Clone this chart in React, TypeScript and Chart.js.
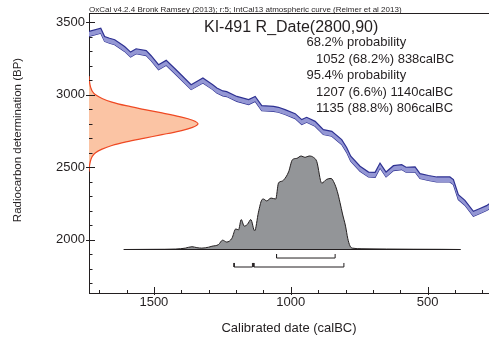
import React, { useEffect, useRef } from 'react';
import { Chart, registerables } from 'chart.js';

Chart.register(...registerables);

const FONT = '"Liberation Sans", Arial, Helvetica, sans-serif';
const INK = '#231f20';

// IntCal13 calibration curve (calBC, BP)
const calBC = [1745, 1737, 1694, 1680, 1662, 1643, 1607, 1585, 1565, 1528, 1510, 1483, 1455, 1419, 1364, 1321, 1285, 1270, 1248, 1234, 1197, 1154, 1130, 1106, 1063, 1045, 1021, 984, 960, 942, 911, 881, 850, 814, 796, 781, 747, 716, 692, 674, 652, 625, 595, 579, 546, 528, 497, 467, 419, 406, 388, 364, 333, 309, 285, 270];
const calBP = [3415, 3421, 3443, 3386, 3374, 3363, 3317, 3278, 3301, 3288, 3253, 3191, 3221, 3156, 3053, 3099, 3053, 3030, 3010, 3005, 2972, 2950, 2972, 2908, 2903, 2897, 2881, 2853, 2812, 2828, 2800, 2743, 2731, 2674, 2620, 2559, 2490, 2450, 2448, 2512, 2450, 2494, 2501, 2483, 2485, 2439, 2426, 2416, 2416, 2398, 2294, 2255, 2179, 2198, 2218, 2237];
const calHalfWidth = 17;

// R_Date(2800,90) likelihood on the radiocarbon axis (relative density)
const likBP = [3130, 3100, 3075, 3050, 3025, 3000, 2975, 2950, 2925, 2900, 2875, 2850, 2825, 2800, 2775, 2750, 2725, 2700, 2675, 2650, 2625, 2600, 2575, 2550, 2525, 2500, 2470];
const likDensity = [0, 0.003, 0.008, 0.016, 0.03, 0.06, 0.12, 0.21, 0.34, 0.5, 0.67, 0.83, 0.95, 1.0, 0.95, 0.83, 0.67, 0.5, 0.34, 0.21, 0.12, 0.06, 0.03, 0.016, 0.008, 0.003, 0];

// Posterior (calibrated) distribution, relative probability
const postBC = [1610, 1500, 1420, 1385, 1361, 1343, 1325, 1300, 1288, 1264, 1249, 1234, 1215, 1201, 1191, 1181, 1170, 1158, 1146, 1132, 1118, 1106, 1100, 1088, 1072, 1055, 1045, 1033, 1027, 1008, 994, 978, 962, 948, 933, 917, 905, 887, 869, 853, 841, 830, 820, 811, 800, 792, 784, 775, 740, 650, 550, 450, 380];
const postProb = [0, 0.002, 0.005, 0.015, 0.03, 0.02, 0.015, 0.025, 0.035, 0.053, 0.1, 0.08, 0.12, 0.22, 0.21, 0.32, 0.25, 0.27, 0.32, 0.2, 0.4, 0.53, 0.54, 0.52, 0.55, 0.54, 0.71, 0.73, 0.74, 0.83, 0.96, 0.975, 1.0, 0.985, 1.0, 0.985, 0.94, 0.71, 0.75, 0.76, 0.71, 0.62, 0.5, 0.38, 0.25, 0.12, 0.04, 0.015, 0.008, 0.005, 0.003, 0.002, 0];
const baselineBC = [1610, 380];

// Highest posterior density ranges (calBC)
const ranges68 = [[1052, 838]];
const ranges95 = [[1207, 1140], [1135, 806]];

const xTickVals = [1500, 1000, 500];
const yTickVals = [2000, 2500, 3000, 3500];

const headerText = 'OxCal v4.2.4 Bronk Ramsey (2013); r:5; IntCal13 atmospheric curve (Reimer et al 2013)';
const titleText = 'KI-491 R_Date(2800,90)';
const probLines = ['68.2% probability', '1052 (68.2%) 838calBC', '95.4% probability', '1207 (6.6%) 1140calBC', '1135 (88.8%) 806calBC'];
const probIndent = [0, 1, 0, 1, 1];
const xTitle = 'Calibrated date (calBC)';
const yTitle = 'Radiocarbon determination (BP)';

const LEVEL68 = -0.091;
const LEVEL95 = -0.187;
const TICK = 0.043;

function bracket(r: number[], level: number) {
  return [
    { x: r[0], y: level + TICK },
    { x: r[0], y: level },
    { x: r[1], y: level },
    { x: r[1], y: level + TICK },
  ];
}

const decor = {
  id: 'decor',
  afterDraw(chart: any) {
    const ctx = chart.ctx as CanvasRenderingContext2D;
    const { left, right, top, bottom } = chart.chartArea;
    const xs = chart.scales.x;
    const ys = chart.scales.y;
    ctx.save();
    ctx.strokeStyle = INK;
    ctx.lineWidth = 1;
    ctx.beginPath();
    ctx.moveTo(left, Math.round(top) + 0.5);
    ctx.lineTo(right, Math.round(top) + 0.5);
    ctx.stroke();
    for (let v = 300; v <= 1700; v += 100) {
      const px = Math.round(xs.getPixelForValue(v)) + 0.5;
      const major = v % 500 === 0;
      ctx.beginPath();
      ctx.moveTo(px, bottom - (major ? 6 : 3));
      ctx.lineTo(px, bottom + (major ? 2 : 0));
      ctx.stroke();
    }
    for (let v = 1700; v <= 3500; v += 100) {
      const py = Math.round(ys.getPixelForValue(v)) + 0.5;
      const major = v % 500 === 0;
      ctx.beginPath();
      ctx.moveTo(left - (major ? 3 : 0), py);
      ctx.lineTo(left + (major ? 6 : 3.5), py);
      ctx.stroke();
    }
    ctx.fillStyle = INK;
    ctx.textBaseline = 'alphabetic';
    ctx.textAlign = 'left';
    ctx.font = `8px ${FONT}`;
    ctx.fillText(headerText, left, 11.5);
    ctx.font = `16px ${FONT}`;
    ctx.fillText(titleText, 204, 31.5);
    ctx.font = `13px ${FONT}`;
    probLines.forEach((t, i) => {
      ctx.fillText(t, probIndent[i] ? 316 : 306.5, 46 + i * 16.5);
    });
    ctx.save();
    ctx.translate(18, 140);
    ctx.rotate(-Math.PI / 2);
    ctx.textAlign = 'center';
    ctx.textBaseline = 'middle';
    ctx.font = `11.5px ${FONT}`;
    ctx.fillText(yTitle, 0, 0);
    ctx.restore();
    ctx.restore();
  },
};

export default function App() {
  const ref = useRef<HTMLCanvasElement>(null);
  useEffect(() => {
    const black = { pointRadius: 0, borderColor: INK, borderWidth: 1, fill: false, tension: 0, xAxisID: 'x', yAxisID: 'yPost' };
    const chart = new Chart(ref.current!, {
      type: 'line',
      data: {
        datasets: [
          ...ranges68.map((r) => ({ ...black, data: bracket(r, LEVEL68) })),
          ...ranges95.map((r) => ({ ...black, data: bracket(r, LEVEL95) })),
          { ...black, data: baselineBC.map((x) => ({ x, y: 0 })) },
          {
            data: postBC.map((x, i) => ({ x, y: postProb[i] })),
            xAxisID: 'x', yAxisID: 'yPost',
            fill: { value: 0 }, backgroundColor: '#939598', borderColor: INK, borderWidth: 1,
            pointRadius: 0, cubicInterpolationMode: 'monotone',
          },
          {
            data: calBC.map((x, i) => ({ x, y: calBP[i] + calHalfWidth })),
            xAxisID: 'x', yAxisID: 'y',
            fill: '+1', backgroundColor: '#9497d4', borderColor: '#2e3192', borderWidth: 1.2,
            pointRadius: 0, tension: 0,
          },
          {
            data: calBC.map((x, i) => ({ x, y: calBP[i] - calHalfWidth })),
            xAxisID: 'x', yAxisID: 'y',
            fill: false, borderColor: '#2e3192', borderWidth: 1.2,
            pointRadius: 0, tension: 0,
          },
          {
            data: likBP.map((y, i) => ({ x: likDensity[i], y })),
            xAxisID: 'xLik', yAxisID: 'y', indexAxis: 'y',
            fill: { value: 0 }, backgroundColor: '#fbc4a4', borderColor: '#ef4923', borderWidth: 1.2,
            pointRadius: 0, tension: 0.35,
          },
        ] as any,
      },
      options: {
        responsive: false,
        animation: false,
        events: [],
        layout: { padding: { top: 13, left: 0, right: 0, bottom: 0 } },
        plugins: { legend: { display: false }, tooltip: { enabled: false }, title: { display: false } },
        scales: {
          x: {
            type: 'linear', position: 'bottom', reverse: true, min: 276, max: 1737,
            afterBuildTicks: (s: any) => { s.ticks = xTickVals.map((v) => ({ value: v })); },
            afterFit: (s: any) => { s.height = 49; },
            ticks: { callback: (v: any) => String(v), padding: 2, color: INK, font: { family: FONT, size: 13 }, maxRotation: 0, autoSkip: false },
            grid: { drawOnChartArea: false, drawTicks: false },
            border: { display: true, color: INK, width: 1 },
            title: { display: true, text: xTitle, color: INK, font: { family: FONT, size: 13 }, padding: { top: 0, bottom: 6 } },
          },
          y: {
            type: 'linear', position: 'left', min: 1632, max: 3565,
            afterBuildTicks: (s: any) => { s.ticks = yTickVals.map((v) => ({ value: v })); },
            afterFit: (s: any) => { s.width = 89; },
            ticks: { callback: (v: any) => String(v), padding: 4, color: INK, font: { family: FONT, size: 13 }, autoSkip: false },
            grid: { drawOnChartArea: false, drawTicks: false },
            border: { display: true, color: INK, width: 1 },
          },
          xLik: { type: 'linear', axis: 'x', display: false, min: 0, max: 3.67 },
          yPost: { type: 'linear', axis: 'y', display: false, min: -0.465, max: 2.529 },
        } as any,
      },
      plugins: [decor],
    } as any);
    return () => chart.destroy();
  }, []);
  return (
    <canvas
      ref={ref}
      width={489}
      height={342}
      style={{ position: 'fixed', left: 0, top: 0, width: 489, height: 342 }}
    />
  );
}
